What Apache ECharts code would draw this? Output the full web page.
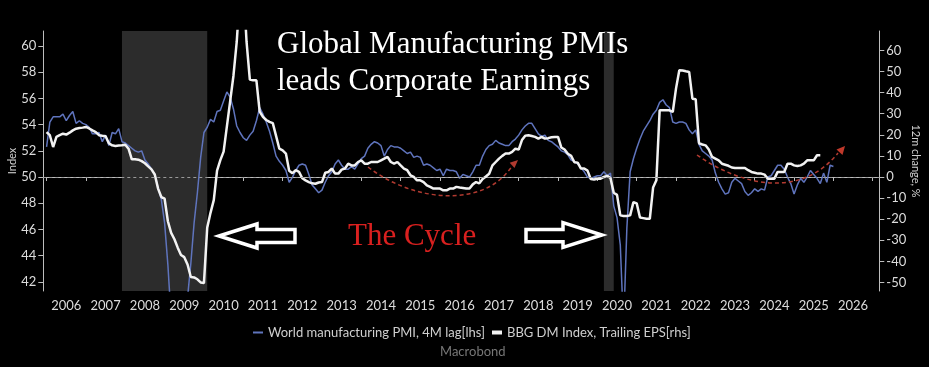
<!DOCTYPE html>
<html>
<head>
<meta charset="utf-8">
<script src="https://cdn.jsdelivr.net/npm/echarts@6/dist/echarts.min.js"></script>
<style>
html,body{margin:0;padding:0;background:#000;}
#c{width:929px;height:367px;}
</style>
</head>
<body>
<div id="c"></div>
<script>
// ---- data (monthly, first value = Jan 2006) ----
const pmiName = 'World manufacturing PMI, 4M lag[lhs]';
const epsName = 'BBG DM Index, Trailing EPS[rhs]';
const pmi = [
52.3,54.2,54.6,54.6,54.6,54.8,54.3,54.7,55.0,54.1,54.3,54.1,
54.0,53.8,53.3,53.3,53.4,52.7,53.2,52.4,53.4,53.3,53.7,52.7,
52.6,52.4,52.2,52.0,51.9,52.0,51.3,51.0,50.6,50.2,49.2,48.3,
46.5,43.3,39.2,36.0,34.2,35.6,38.2,40.8,43.4,46.5,48.8,51.5,
53.4,53.8,54.4,54.2,55.0,55.1,55.8,56.5,56.1,55.2,53.9,53.4,
53.0,52.8,53.2,53.5,54.3,55.3,54.8,54.2,53.5,52.6,51.6,51.2,
50.9,50.5,49.6,50.0,50.5,50.9,51.0,50.9,50.2,49.4,49.1,48.8,
49.0,49.6,50.1,50.4,51.0,51.3,50.9,50.6,50.6,50.8,50.6,51.0,
51.4,51.6,52.2,52.5,52.7,52.6,52.4,51.6,52.1,52.4,52.3,52.3,
52.2,52.0,51.8,51.9,51.5,51.6,51.5,50.9,51.0,50.9,50.7,50.5,
50.6,50.1,50.6,50.5,50.5,50.4,49.9,50.2,50.1,50.0,50.4,50.9,
50.9,51.6,52.1,52.4,52.5,52.8,52.6,52.5,52.4,52.4,52.7,52.9,
53.2,53.6,53.9,54.1,54.1,53.7,53.3,53.1,53.2,52.8,52.7,52.5,
52.3,52.0,51.9,51.7,51.3,51.2,51.0,50.7,50.4,50.0,49.9,50.0,
50.1,50.1,50.4,50.1,50.3,47.8,46.9,44.8,38.5,46.1,50.4,51.4,
52.2,52.9,53.5,53.9,54.3,54.8,55.1,55.7,55.9,55.5,55.3,54.2,
54.1,54.2,54.2,54.1,53.6,53.3,53.6,52.5,52.0,51.8,51.6,51.3,
50.3,49.6,49.1,48.7,48.8,49.6,49.9,49.7,49.5,48.9,48.6,48.8,
49.1,48.9,49.1,49.0,50.0,50.1,50.5,50.9,50.9,50.6,50.0,49.5,
48.7,49.4,49.9,49.6,50.0,50.5,50.2,49.9,49.5,50.3,49.6,50.9,
50.8
];
const eps = [
21.3,19.8,14.2,19.0,19.8,20.5,20.1,21.0,22.1,22.9,23.2,23.4,
23.7,23.0,22.1,21.3,19.8,19.5,19.3,16.0,15.0,14.7,14.9,15.0,
15.3,13.4,8.4,8.4,8.2,7.5,6.5,5.0,3.6,1.2,-5.5,-9.5,
-10.3,-21.0,-26.5,-29.5,-33.5,-37.0,-38.0,-41.5,-47.4,-47.6,-48.5,-50.0,
-50.3,-24.0,-17.0,-11.0,3.0,8.0,12.0,24.0,36.0,48.0,64.0,88.0,
92.0,64.0,46.2,45.8,45.8,31.0,28.5,27.0,26.1,25.5,19.5,13.4,
12.6,11.1,3.0,1.8,3.2,2.4,-0.6,-1.6,-2.4,-3.0,-3.2,-2.6,
-2.4,2.0,2.4,4.0,1.6,1.6,3.5,4.0,6.3,5.5,5.5,7.1,
7.9,6.3,6.3,7.1,7.1,7.1,7.9,8.7,9.5,7.1,6.3,7.1,
5.5,4.0,3.2,0.8,0.0,-1.6,-1.6,-2.4,-4.0,-4.7,-5.5,-5.5,
-5.5,-6.3,-6.3,-5.5,-5.5,-4.7,-5.0,-5.2,-5.5,-5.5,-3.5,-2.4,
-3.0,-1.0,0.2,1.5,5.5,7.1,8.7,10.0,11.1,11.1,11.9,13.4,
13.0,17.5,19.6,19.8,19.4,19.0,18.2,19.0,18.2,18.4,18.8,19.0,
19.0,14.0,13.0,11.0,10.0,7.0,6.8,4.0,4.0,3.0,-1.0,-1.2,
-0.8,-0.8,0.0,0.5,-0.5,-7.5,-8.5,-18.2,-18.5,-18.5,-18.2,-11.9,
-12.5,-19.2,-19.5,-19.8,-19.8,-5.0,-1.6,31.6,31.6,31.6,31.6,30.8,
42.0,50.6,50.5,50.1,49.8,37.1,36.8,16.0,15.4,15.0,13.0,9.5,
8.7,7.9,6.3,5.8,5.3,4.5,4.3,4.3,4.3,4.3,3.2,2.4,
2.0,1.6,1.6,1.1,-0.8,-0.8,-0.8,2.4,2.4,2.4,6.3,6.3,
5.5,5.2,5.5,6.3,7.9,7.9,7.9,10.3,10.3
];
const leftTicks = [42,44,46,48,50,52,54,56,58,60];
const rightTicks = [-50,-40,-30,-20,-10,0,10,20,30,40,50,60];
const recessions = [['2007-12','2010-02'],['2020-03','2020-06']];

// month categories Dec 2005 .. Mar 2027
const months = [];
for (let y = 2005, m = 12; y < 2027 || (y === 2027 && m <= 3); ) {
  months.push(y + '-' + (m < 10 ? '0' + m : '' + m));
  m++; if (m > 12) { m = 1; y++; }
}

const chart = echarts.init(document.getElementById('c'), null, {renderer: 'canvas'});
const font = 'Lato';
const axisCol = '#bdbdbd';
const labCol = '#dcdcdc';

chart.setOption({
  backgroundColor: '#000',
  animation: false,
  grid: {left: 43.3, right: 49.7, top: 31, bottom: 76, containLabel: false, outerBoundsMode: 'none'},
  legend: {
    left: 248, top: 321, itemGap: 7, itemWidth: 10, itemHeight: 10,
    textStyle: {color: '#cfcfcf', fontSize: 13, fontFamily: font},
    data: [
      {name: pmiName, icon: 'path://M0,0h10v2h-10z'},
      {name: epsName, icon: 'path://M0,0h10v4h-10z'}
    ]
  },
  xAxis: {
    type: 'category', data: months, boundaryGap: false,
    axisLine: {lineStyle: {color: axisCol, width: 1}},
    axisTick: {length: 4, lineStyle: {color: axisCol}, interval: (i, v) => v.endsWith('-01')},
    axisLabel: {interval: (i, v) => v.endsWith('-07'), formatter: v => v.slice(0, 4),
      color: labCol, fontSize: 13, fontFamily: font, margin: 8},
    splitLine: {show: false}
  },
  yAxis: [
    {
      type: 'value', position: 'left', min: 41.3, max: 61.15,
      name: 'Index', nameLocation: 'middle', nameGap: 25, nameRotate: 90, nameMoveOverlap: false,
      nameTextStyle: {color: '#cfcfcf', fontSize: 11, fontFamily: font},
      axisLine: {show: true, lineStyle: {color: axisCol}},
      axisTick: {show: true, length: 5, customValues: leftTicks, lineStyle: {color: axisCol}},
      axisLabel: {customValues: leftTicks, color: labCol, fontSize: 13, fontFamily: font, margin: 7},
      splitLine: {show: false}
    },
    {
      type: 'value', position: 'right', min: -54.05, max: 69.2,
      name: '12m change, %', nameLocation: 'middle', nameGap: 31, nameRotate: -90, nameMoveOverlap: false,
      nameTextStyle: {color: '#cfcfcf', fontSize: 11, fontFamily: font},
      axisLine: {show: true, lineStyle: {color: axisCol}},
      axisTick: {show: true, length: 5, customValues: rightTicks, lineStyle: {color: axisCol}},
      axisLabel: {customValues: rightTicks, color: labCol, fontSize: 13, fontFamily: font, margin: 7},
      splitLine: {show: false}
    }
  ],
  series: [
    {
      name: pmiName, type: 'line', yAxisIndex: 0, showSymbol: false, symbol: 'none',
      data: [null].concat(pmi),
      lineStyle: {color: '#5f74bd', width: 1.5}, itemStyle: {color: '#5f74bd'},
      z: 3,
      markArea: {silent: true, itemStyle: {color: '#2c2c2c'},
        data: recessions.map(r => [{xAxis: r[0]}, {xAxis: r[1]}])},
      markLine: {silent: true, symbol: 'none', label: {show: false},
        lineStyle: {color: '#9a9a9a', type: [3, 3], width: 1},
        data: [{yAxis: 50}]}
    },
    {
      name: epsName, type: 'line', yAxisIndex: 1, showSymbol: false, symbol: 'none',
      data: [null].concat(eps),
      lineStyle: {color: '#f2f2f2', width: 2.5}, itemStyle: {color: '#f2f2f2'},
      z: 4
    }
  ],
  graphic: [
    {type: 'text', left: 277, top: 29, z: 10, style: {text: 'Global Manufacturing PMIs', fill: '#fff', font: '31px "Liberation Serif"'}},
    {type: 'text', left: 277, top: 66, z: 10, style: {text: 'leads Corporate Earnings', fill: '#fff', font: '31px "Liberation Serif"'}},
    {type: 'text', left: 348, top: 221, z: 10, style: {text: 'The Cycle', fill: '#d9201f', font: '31px "Liberation Serif"'}},
    {type: 'polygon', z: 10, shape: {points: [[219,236],[257,224],[257,229.5],[295,229.5],[295,242.5],[257,242.5],[257,248]]},
      style: {fill: '#000', stroke: '#fff', lineWidth: 3.5, lineJoin: 'miter'}},
    {type: 'polygon', z: 10, shape: {points: [[526,229.5],[563,229.5],[563,222.7],[602,235],[563,247.3],[563,241.7],[526,241.7]]},
      style: {fill: '#000', stroke: '#fff', lineWidth: 3.5, lineJoin: 'miter'}},
    {type: 'bezierCurve', z: 9, shape: {x1: 368, y1: 167, cpx1: 415, cpy1: 203, cpx2: 485, cpy2: 208, x2: 512, y2: 166},
      style: {fill: null, stroke: '#b13a30', lineWidth: 1.5, lineDash: [4, 3]}},
    {type: 'polygon', z: 9, shape: {points: [[518,160],[514.5,168],[509.7,162.8]]}, style: {fill: '#b13a30'}},
    {type: 'bezierCurve', z: 9, shape: {x1: 697, y1: 155, cpx1: 740, cpy1: 185, cpx2: 800, cpy2: 200, x2: 838, y2: 153},
      style: {fill: null, stroke: '#b13a30', lineWidth: 1.5, lineDash: [4, 3]}},
    {type: 'polygon', z: 9, shape: {points: [[845,146],[842.5,155],[836.5,149.5]]}, style: {fill: '#c0392b'}},
    {type: 'text', left: 440, top: 345, z: 10, style: {text: 'Macrobond', fill: '#777', font: '13px Lato'}}
  ]
});
</script>
</body>
</html>
